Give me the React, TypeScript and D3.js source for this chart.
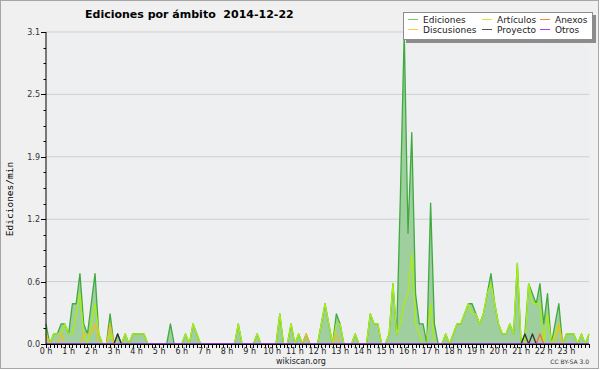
import React from "react";
import * as d3 from "d3";

// 10-minute bins, 0h00 .. 24h00 (145 points), edits per minute
const ediciones = [
  0.2, 0, 0.1, 0.1, 0.2, 0.2, 0.1, 0.4, 0.4, 0.7, 0.2, 0.1,
  0.4, 0.7, 0.1, 0, 0, 0.3, 0, 0.1, 0, 0.1, 0, 0.1,
  0.1, 0.1, 0.1, 0, 0, 0, 0, 0, 0, 0.2, 0, 0,
  0, 0.1, 0, 0.2, 0.1, 0, 0, 0, 0, 0, 0, 0,
  0, 0, 0, 0.2, 0, 0, 0, 0, 0.1, 0, 0, 0,
  0, 0, 0.3, 0, 0, 0.2, 0, 0.1, 0, 0.1, 0, 0,
  0, 0.2, 0.4, 0.2, 0, 0.3, 0.2, 0, 0, 0, 0.1, 0,
  0, 0, 0.3, 0.2, 0.2, 0, 0, 0.1, 0.6, 0.1, 1.5, 3.1,
  1.1, 2.1, 0.5, 0.2, 0.2, 0, 1.4, 0.2, 0, 0, 0.1, 0,
  0.1, 0.2, 0.2, 0.3, 0.4, 0.4, 0.3, 0.2, 0.3, 0.5, 0.7, 0.4,
  0.2, 0.1, 0.1, 0.2, 0.1, 0.8, 0, 0.1, 0.6, 0.5, 0.4, 0.6,
  0.2, 0.5, 0, 0.2, 0.4, 0, 0.1, 0.1, 0.1, 0, 0.1, 0,
  0.1,
];
const articulos = [
  0.1, 0, 0.1, 0.1, 0.1, 0.2, 0.1, 0.1, 0.3, 0.5, 0.1, 0,
  0.2, 0.4, 0.1, 0, 0, 0.1, 0, 0, 0, 0.1, 0, 0.1,
  0.1, 0.1, 0.1, 0, 0, 0, 0, 0, 0, 0, 0, 0,
  0, 0.1, 0, 0.2, 0.1, 0, 0, 0, 0, 0, 0, 0,
  0, 0, 0, 0.2, 0, 0, 0, 0, 0.1, 0, 0, 0,
  0, 0, 0.3, 0, 0, 0.2, 0, 0.1, 0, 0, 0, 0,
  0, 0.2, 0.4, 0.2, 0, 0.2, 0.2, 0, 0, 0, 0.1, 0,
  0, 0, 0.3, 0.2, 0.2, 0, 0, 0.1, 0.6, 0.1, 0.2, 0.4,
  0.5, 0.9, 0.2, 0.1, 0, 0, 0.4, 0, 0, 0, 0.1, 0,
  0.1, 0.2, 0.2, 0.3, 0.4, 0.3, 0.3, 0.2, 0.3, 0.5, 0.6, 0.4,
  0.2, 0.1, 0.1, 0.2, 0.1, 0.8, 0, 0, 0.6, 0.4, 0.4, 0.4,
  0, 0.3, 0, 0.1, 0.2, 0, 0.1, 0.1, 0.1, 0, 0.1, 0,
  0.1,
];
const discusiones = [
  0.1, 0, 0, 0, 0.1, 0, 0, 0, 0, 0, 0.1, 0.1,
  0.1, 0.2, 0, 0, 0, 0.2, 0, 0, 0, 0, 0, 0,
  0, 0, 0, 0, 0, 0, 0, 0, 0, 0, 0, 0,
  0, 0, 0, 0, 0, 0, 0, 0, 0, 0, 0, 0,
  0, 0, 0, 0, 0, 0, 0, 0, 0, 0, 0, 0,
  0, 0, 0, 0, 0, 0, 0, 0, 0, 0.1, 0, 0,
  0, 0, 0, 0, 0, 0.1, 0, 0, 0, 0, 0, 0,
  0, 0, 0, 0, 0, 0, 0, 0, 0, 0, 0, 0,
  0, 0, 0, 0, 0, 0, 0, 0, 0, 0, 0, 0,
  0, 0, 0, 0, 0, 0, 0, 0, 0, 0, 0, 0,
  0, 0, 0, 0, 0, 0, 0, 0, 0, 0, 0, 0,
  0, 0, 0, 0, 0.2, 0, 0, 0, 0, 0, 0, 0,
  0,
];
const proyecto = [
  0, 0, 0, 0, 0, 0, 0, 0, 0, 0, 0, 0,
  0, 0, 0, 0, 0, 0, 0, 0.1, 0, 0, 0, 0,
  0, 0, 0, 0, 0, 0, 0, 0, 0, 0, 0, 0,
  0, 0, 0, 0, 0, 0, 0, 0, 0, 0, 0, 0,
  0, 0, 0, 0, 0, 0, 0, 0, 0, 0, 0, 0,
  0, 0, 0, 0, 0, 0, 0, 0, 0, 0, 0, 0,
  0, 0, 0, 0, 0, 0, 0, 0, 0, 0, 0, 0,
  0, 0, 0, 0, 0, 0, 0, 0, 0, 0, 0, 0,
  0, 0, 0, 0, 0, 0, 0, 0, 0, 0, 0, 0,
  0, 0, 0, 0, 0, 0, 0, 0, 0, 0, 0, 0,
  0, 0, 0, 0, 0, 0, 0, 0.1, 0, 0.1, 0, 0,
  0, 0, 0, 0, 0, 0, 0, 0, 0, 0, 0, 0,
  0,
];
const anexos = [
  0, 0, 0, 0, 0, 0, 0, 0, 0, 0, 0, 0,
  0, 0, 0, 0, 0, 0, 0, 0, 0, 0, 0, 0,
  0, 0, 0, 0, 0, 0, 0, 0, 0, 0, 0, 0,
  0, 0, 0, 0, 0, 0, 0, 0, 0, 0, 0, 0,
  0, 0, 0, 0, 0, 0, 0, 0, 0, 0, 0, 0,
  0, 0, 0, 0, 0, 0, 0, 0, 0, 0, 0, 0,
  0, 0, 0, 0, 0, 0, 0, 0, 0, 0, 0, 0,
  0, 0, 0, 0, 0, 0, 0, 0, 0, 0, 0, 0,
  0, 0, 0, 0, 0, 0, 0, 0, 0, 0, 0, 0,
  0, 0, 0, 0, 0, 0, 0, 0, 0, 0, 0, 0,
  0, 0, 0, 0, 0, 0, 0, 0, 0, 0, 0, 0.1,
  0, 0, 0, 0, 0, 0, 0, 0, 0, 0, 0, 0,
  0,
];
const otros = ediciones.map(() => 0);

const yTickLabels = ["0.0", "0.6", "1.2", "1.9", "2.5", "3.1"];
const yMax = 3.1;
const hourLabels = d3.range(0, 24).map((h) => `${h} h`);

const legendNames = ["Ediciones", "Artículos", "Anexos", "Discusiones", "Proyecto", "Otros"];
const legendColors = ["#77cc77", "#ccee44", "#ff7f40", "#ffcc33", "#555555", "#a040ff"];

const FONT = "DejaVu Sans";

export default function App() {
  const x = d3.scaleLinear().domain([0, 144]).range([46, 589]);
  const y = d3.scaleLinear().domain([0, yMax]).range([344, 32]);
  const line = d3
    .line<number>()
    .x((_, i) => x(i))
    .y((d) => y(d));
  const area = d3
    .area<number>()
    .x((_, i) => x(i))
    .y0(y(0))
    .y1((d) => y(d));

  const yMajor = yTickLabels.map((_, i) => (i * yMax) / (yTickLabels.length - 1));
  const yMinor = d3.range(0, 21).map((k) => (k * yMax) / 20);
  const xMinor = d3.range(0, 145);

  const series = [
    { data: articulos, color: "#aaee11" },
    { data: discusiones, color: "#eebf20" },
    { data: anexos, color: "#ff6a30" },
    { data: proyecto, color: "#333333" },
    { data: otros, color: "#9933ff" },
  ];

  const legendColX = [408, 482, 540];
  const legendRowY = [19, 29];

  return (
    <svg
      width={600}
      height={370}
      style={{ position: "fixed", left: 0, top: 0, display: "block" }}
      fontFamily={FONT}
    >
      <rect x={0} y={0} width={600} height={370} fill="#ffffff" />
      <rect x={0.5} y={0.5} width={598} height={368} fill="#f0f0f0" stroke="#a6a6a6" />
      <rect x={46} y={32} width={543} height={312} fill="#eeeff1" />

      {/* grid */}
      {yMajor.slice(1).map((v, i) => (
        <line key={"g" + i} x1={46} x2={589} y1={y(v)} y2={y(v)} stroke="#cfcfcf" strokeWidth={1} />
      ))}

      {/* ediciones area + line */}
      <path d={area(ediciones) || ""} fill="#9fcf9f" />
      <path d={line(ediciones) || ""} fill="none" stroke="#3faa3f" strokeWidth={1.3} strokeLinejoin="round" />
      {series.map((s, i) => (
        <path key={"s" + i} d={line(s.data) || ""} fill="none" stroke={s.color} strokeWidth={1.3} strokeLinejoin="round" />
      ))}

      {/* y axis */}
      <line x1={46} x2={46} y1={32} y2={344} stroke="#000" strokeWidth={1} />
      {yMinor.map((v, i) => (
        <line key={"ym" + i} x1={43.5} x2={46} y1={Math.round(y(v)) + 0.5} y2={Math.round(y(v)) + 0.5} stroke="#000" />
      ))}
      {yMajor.map((v, i) => (
        <g key={"yl" + i}>
          <line x1={41} x2={46} y1={Math.round(y(v)) + 0.5} y2={Math.round(y(v)) + 0.5} stroke="#000" />
          <text x={40} y={y(v) + 3} fontSize={8} textAnchor="end" fill="#333">
            {yTickLabels[i]}
          </text>
        </g>
      ))}
      <text
        transform="translate(13,199) rotate(-90)"
        fontSize={9.5}
        fontFamily="DejaVu Sans Mono"
        textAnchor="middle"
        fill="#000"
      >
        Ediciones/min
      </text>

      {/* x axis */}
      <line x1={46} x2={589.5} y1={344.5} y2={344.5} stroke="#000" strokeWidth={1.2} />
      {xMinor.map((i) => (
        <line key={"xm" + i} x1={Math.round(x(i)) + 0.5} x2={Math.round(x(i)) + 0.5} y1={344} y2={348} stroke="#000" />
      ))}
      {hourLabels.map((t, h) => (
        <text key={"xl" + h} x={x(h * 6)} y={354} fontSize={8} textAnchor="middle" fill="#222">
          {t}
        </text>
      ))}

      {/* title */}
      <text x={85} y={18} fontSize={11} fontWeight="bold" fill="#000" style={{ whiteSpace: "pre" }}>
        {"Ediciones por ámbito  2014-12-22"}
      </text>

      {/* legend */}
      <rect x={406} y={15} width={190} height={28} fill="#8c8c8c" />
      <rect x={403.5} y={12.5} width={189} height={27} fill="#ffffff" stroke="#8c8c8c" />
      {legendNames.map((n, i) => {
        const col = i % 3;
        const row = Math.floor(i / 3);
        const lx = legendColX[col];
        const ly = legendRowY[row];
        return (
          <g key={"lg" + i}>
            <line x1={lx} x2={lx + 10} y1={ly + 0.5} y2={ly + 0.5} stroke={legendColors[i]} strokeWidth={1} />
            <text x={lx + 15} y={ly + 3.5} fontSize={9} fill="#222">
              {n}
            </text>
          </g>
        );
      })}

      {/* footer */}
      <text x={301} y={364} fontSize={8} textAnchor="middle" fill="#222">
        wikiscan.org
      </text>
      <text x={589} y={364} fontSize={6} textAnchor="end" fill="#333">
        CC BY-SA 3.0
      </text>
    </svg>
  );
}
